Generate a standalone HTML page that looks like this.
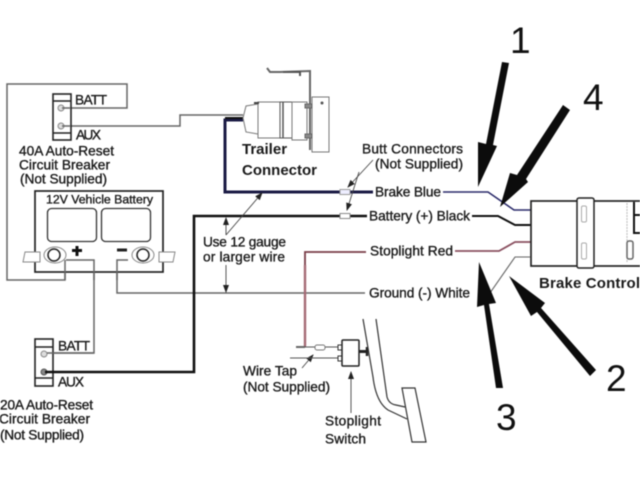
<!DOCTYPE html>
<html><head><meta charset="utf-8"><style>
html,body{margin:0;padding:0;background:#fff;width:640px;height:480px;overflow:hidden}
svg{display:block;filter:blur(.5px)}
text{font-family:"Liberation Sans",sans-serif;font-size:13.7px;fill:#1a1a1a;stroke:#1a1a1a;stroke-width:.35px}
.b{font-weight:bold;font-size:15px;stroke:none}
.n{font-size:37px;fill:#111;stroke:none}
.w{fill:none;stroke-linejoin:miter}
</style></head><body>
<svg width="640" height="480" viewBox="0 0 640 480" xmlns="http://www.w3.org/2000/svg">
<defs>
<marker id="a" markerWidth="8" markerHeight="6" refX="7" refY="3" orient="auto" markerUnits="userSpaceOnUse"><path d="M0 0L8 3L0 6Z" fill="#222"/></marker>
</defs>
<!-- gray wires -->
<g class="w" stroke="#666" stroke-width="1.5">
<path d="M65 108H127V84H7V280H65V260"/>
<path d="M65 126H180V115H243"/>
<path d="M66 260H94V353H47"/>
<path d="M128 260H117V293H365"/>
<path d="M478 293H490L515 257H530" stroke-width="1.1"/>
</g>
<!-- breaker 40A -->
<g class="w" stroke="#222" stroke-width="1.6">
<rect x="53" y="94" width="18" height="46" fill="#fff"/>
<path d="M53 101H71M53 133H71"/>
</g>
<g fill="#ddd" stroke="#888"><circle cx="61" cy="108" r="3"/><circle cx="61" cy="126" r="3"/></g>
<path d="M62 108H70M62 126H70" stroke="#666" stroke-width="1.5"/>
<!-- battery -->
<rect x="35" y="191" width="128" height="81" fill="#fff" stroke="#222" stroke-width="1.7"/>
<g class="w" stroke="#333" stroke-width="1.3">
<rect x="47.500" y="208.500" width="49" height="33" rx="4"/>
<rect x="101.500" y="208.500" width="49" height="33" rx="4"/>
</g>
<g fill="#fff" stroke="#888" stroke-width="1">
<path d="M25 252H40V262H23Z"/><path d="M159 252H175L173 262H159Z"/>
<ellipse cx="55" cy="255" rx="11" ry="8"/><ellipse cx="143" cy="255" rx="11" ry="8"/>
</g>
<g fill="#fff" stroke="#222" stroke-width="1.5"><circle cx="54" cy="255" r="6"/><circle cx="143" cy="255" r="6"/></g>
<path d="M72 250.500H82M77 246V256" stroke="#111" stroke-width="3" fill="none"/>
<path d="M117 250H127" stroke="#222" stroke-width="3" fill="none"/>
<g class="w" stroke="#666" stroke-width="1.5">
<path d="M66 260H94V280M128 260H117V280"/>
<path d="M65 280V260"/>
</g>
<!-- breaker 20A -->
<rect x="35" y="339" width="18" height="47" fill="#fff" stroke="#222" stroke-width="1.6"/>
<path d="M35 347H53M35 378H53" stroke="#222" stroke-width="1.5"/>
<circle cx="44" cy="354" r="3" fill="#ddd" stroke="#888"/><circle cx="44" cy="372" r="3" fill="#888" stroke="#555"/>
<path d="M47 353H94" stroke="#666" stroke-width="1.5"/>
<!-- main black -->
<path class="w" d="M45 372H194V216H340M350 216H367" stroke="#111" stroke-width="2.6"/>
<path class="w" d="M243 120H225V192H340M350 192H373" stroke="#1b1b45" stroke-width="3"/>
<path class="w" d="M225 118H243" stroke="#111" stroke-width="2"/>
<!-- butt connectors -->
<rect x="340" y="189.500" width="10" height="5" fill="#eef" stroke="#999"/>
<rect x="340" y="213.500" width="10" height="5" fill="#fff" stroke="#888"/>
<!-- red wire -->
<path class="w" d="M366 252H305V347" stroke="#7a3d48" stroke-width="1.8"/>
<path class="w" d="M305 265V346" stroke="#a56a75" stroke-width="2.4"/>
<!-- right wires -->
<path class="w" d="M443 192H488L514 210H531" stroke="#2a2a6a" stroke-width="1.6"/>
<path class="w" d="M472 216H498L515 225H531" stroke="#111" stroke-width="2"/>
<path class="w" d="M455 251H499L515 242H531" stroke="#8a5060" stroke-width="1.8"/>
<!-- dimension arrows -->
<g class="w" stroke="#444" stroke-width=".9">
<path d="M226 235V218" marker-end="url(#a)"/>
<path d="M226 265V292" marker-end="url(#a)"/>
<path d="M226 235L262 193" marker-end="url(#a)"/>
<path d="M373 160L348 187" marker-end="url(#a)"/>
<path d="M359 172L347 210" marker-end="url(#a)"/>
<path d="M302 368L313 355" marker-end="url(#a)"/>
<path d="M351 413V372" marker-end="url(#a)"/>
</g>
<!-- trailer connector -->
<g fill="#fff" stroke="#777" stroke-width="1">
<path d="M243 118L246 106L258 104V134L246 132Z"/>
<rect x="258" y="102" width="22" height="36"/>
<rect x="280" y="102" width="12" height="36" stroke="#555"/>
<path d="M292 102H307V140H292Z"/>
<rect x="312" y="97" width="17" height="55"/>
</g>
<path class="w" d="M267 68L270 72H280L310 71V150" stroke="#666" stroke-width="2"/>
<path class="w" d="M283 72H300V76" stroke="#555" stroke-width="2"/>
<path d="M283 102V138" stroke="#555" stroke-width="1.500"/>
<path d="M305 104H312V108H305ZM305 134H312V138H305Z" fill="#888" stroke="#666"/>
<circle cx="322" cy="103" r="1.500" fill="#555"/>
<path d="M254 103H259" stroke="#444" stroke-width="2"/>
<!-- brake control -->
<rect x="531" y="201" width="112" height="65" fill="#fff" stroke="#222" stroke-width="1.7"/>
<rect x="577" y="198" width="17" height="70" rx="2" fill="#fff" stroke="#222" stroke-width="1.500"/>
<rect x="581.500" y="206" width="5" height="16" rx="1.500" fill="#fff" stroke="#aaa"/>
<rect x="581.500" y="243" width="5" height="16" rx="1.500" fill="#fff" stroke="#aaa"/>
<path d="M627 203V262" stroke="#bbb" stroke-dasharray="2 1"/>
<path class="w" d="M634 202V233H640M634 215H640" stroke="#111" stroke-width="2"/>
<rect x="627" y="241" width="6" height="18" rx="2" fill="#fff" stroke="#666" stroke-width="1.500"/>
<!-- switch & pedal -->
<path class="w" d="M296 347H315M325 347H340M290 358H340" stroke="#555" stroke-width="1"/>
<path d="M296 347H305" stroke="#666" stroke-width="2"/>
<rect x="315" y="345" width="10" height="5" rx="2" fill="#fff" stroke="#777"/>
<rect x="338" y="345" width="5" height="5" fill="#fff" stroke="#333"/>
<rect x="338" y="356" width="5" height="5" fill="#fff" stroke="#333"/>
<rect x="342" y="340" width="17" height="26" rx="1" fill="#fff" stroke="#222" stroke-width="1.500"/>
<path d="M359 351.500H368" stroke="#222" stroke-width="3"/>
<path d="M367 347V356" stroke="#222" stroke-width="2.500"/>
<g class="w" stroke="#333" stroke-width="1.200">
<path d="M363 319L373 377Q376 402 388 410L407 419"/>
<path d="M376 319L387 397Q389 404 396 405L405 407"/>
<path d="M402 388H415L426 442H412Z" fill="#fff"/>
</g>
<!-- big arrows -->
<g fill="#0c0c0c">
<path d="M502 62L509 63L493 145L497 146L478 187L478 142L486 144Z"/>
<path d="M563 105L570 110L526 179L528 182L500 207L510 173L517 175Z"/>
<path d="M496 388L503 388L489 304L496 303L479 262L477 307L484 305Z"/>
<path d="M596 370L590 376L537 312L531 316L509 276L545 303L541 308Z"/>
</g>
<text class="n" x="510" y="53">1</text>
<text class="n" x="583" y="110">4</text>
<text class="n" x="606" y="391">2</text>
<text class="n" x="496" y="430">3</text>
<!-- labels -->
<text x="75" y="104.500" textLength="32">BATT</text>
<text x="76" y="139.500" textLength="25">AUX</text>
<text x="19" y="155.500" textLength="95">40A Auto-Reset</text>
<text x="19" y="169.500" textLength="91">Circuit Breaker</text>
<text x="20" y="183.500" textLength="87">(Not Supplied)</text>
<text x="46" y="203.500" textLength="107" style="font-size:12.3px">12V Vehicle Battery</text>
<text x="58" y="350.500" textLength="32">BATT</text>
<text x="58" y="386.500" textLength="26">AUX</text>
<text x="0" y="409.500" textLength="93">20A Auto-Reset</text>
<text x="-1" y="423.500" textLength="91">Circuit Breaker</text>
<text x="0" y="439.500" textLength="84">(Not Supplied)</text>
<text class="b" x="242" y="154">Trailer</text>
<text class="b" x="242" y="175">Connector</text>
<text x="362" y="153.500" textLength="101">Butt Connectors</text>
<text x="375" y="168.500" textLength="88">(Not Supplied)</text>
<text x="375" y="196.500" textLength="66">Brake Blue</text>
<text x="369" y="220.500" textLength="101">Battery (+) Black</text>
<text x="370" y="255.500" textLength="83">Stoplight Red</text>
<text x="369" y="297.500" textLength="101">Ground (-) White</text>
<text x="203" y="246.500" textLength="83">Use 12 gauge</text>
<text x="203" y="261.500" textLength="82">or larger wire</text>
<text x="243" y="375.500" textLength="54">Wire Tap</text>
<text x="243" y="391.500" textLength="87">(Not Supplied)</text>
<text x="325" y="425.500" textLength="56">Stoplight</text>
<text x="325" y="443.500" textLength="41">Switch</text>
<text class="b" x="539" y="288" textLength="101">Brake Control</text>
</svg>
</body></html>
